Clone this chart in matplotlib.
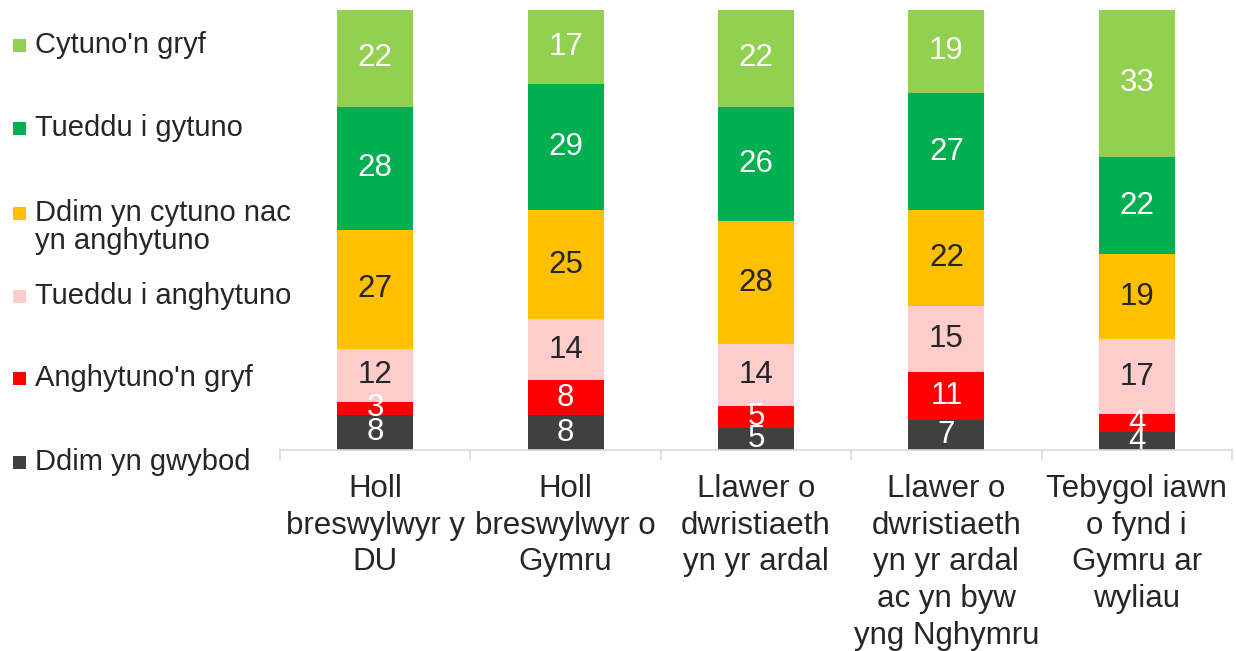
import matplotlib
matplotlib.use("Agg")
import matplotlib.pyplot as plt
from matplotlib.patches import Rectangle
import numpy as np

plt.rcParams['font.family'] = ['Liberation Sans', 'DejaVu Sans']

categories = [
    "Holl\nbreswylwyr y\nDU",
    "Holl\nbreswylwyr o\nGymru",
    "Llawer o\ndwristiaeth\nyn yr ardal",
    "Llawer o\ndwristiaeth\nyn yr ardal\nac yn byw\nyng Nghymru",
    "Tebygol iawn\no fynd i\nGymru ar\nwyliau",
]

# stacked from bottom to top
series_names = [
    "Ddim yn gwybod",
    "Anghytuno'n gryf",
    "Tueddu i anghytuno",
    "Ddim yn cytuno nac\nyn anghytuno",
    "Tueddu i gytuno",
    "Cytuno'n gryf",
]
ddim_gwybod = [8, 8, 5, 7, 4]
anghytuno_gryf = [3, 8, 5, 11, 4]
tueddu_anghytuno = [12, 14, 14, 15, 17]
niwtral = [27, 25, 28, 22, 19]
tueddu_gytuno = [28, 29, 26, 27, 22]
cytuno_gryf = [22, 17, 22, 19, 33]

series_values = [ddim_gwybod, anghytuno_gryf, tueddu_anghytuno, niwtral, tueddu_gytuno, cytuno_gryf]
colors = ["#404040", "#FF0000", "#FFCCCC", "#FFC000", "#00B050", "#92D050"]
label_colors = ["white", "white", "#262626", "#262626", "white", "white"]

fig = plt.figure(figsize=(12.36, 6.51), dpi=100)
ax = fig.add_axes([280/1236, (651-450)/651, (1232-280)/1236, 440/651])

vals = np.array(series_values, dtype=float)
totals = vals.sum(axis=0)
pct = vals / totals * 100  # 100% stacked

x = np.arange(len(categories))
bottom = np.zeros(len(categories))
for i, name in enumerate(series_names):
    bars = ax.bar(x, pct[i], 0.4, bottom=bottom, color=colors[i], edgecolor='none', zorder=2)
    ax.bar_label(bars, labels=[str(v) for v in series_values[i]], label_type='center',
                 color=label_colors[i], fontsize=22.5)
    bottom += pct[i]

ax.set_xlim(-0.5, len(categories) - 0.5)
ax.set_ylim(0, 100)
for s in ['left', 'right', 'top']:
    ax.spines[s].set_visible(False)
ax.spines['bottom'].set_color('#D9D9D9')
ax.spines['bottom'].set_linewidth(1.2)
ax.set_yticks([])
ax.set_xticks(x)
ax.set_xticklabels(categories, fontsize=22.5, color='#262626', linespacing=1.3)
ax.tick_params(axis='x', which='major', length=0, pad=17)
ax.set_xticks(np.arange(-0.5, len(categories)), minor=True)
ax.tick_params(axis='x', which='minor', length=7, color='#D9D9D9', width=1.2)

# legend (top entry first)
leg_y = [45, 128, 213, 296, 378, 462]
for j, i in enumerate(reversed(range(len(series_names)))):
    yc = leg_y[j]
    fig.patches.append(Rectangle(((13)/1236, (651-yc-6.5)/651), 13/1236, 13/651,
                                 transform=fig.transFigure, facecolor=colors[i],
                                 edgecolor='none'))
    for k, line in enumerate(series_names[i].split("\n")):
        fig.text(35/1236, (651-(yc + k*28))/651, line, fontsize=21, color='#262626',
                 ha='left', va='center')

fig.savefig("out.png", dpi=100)
